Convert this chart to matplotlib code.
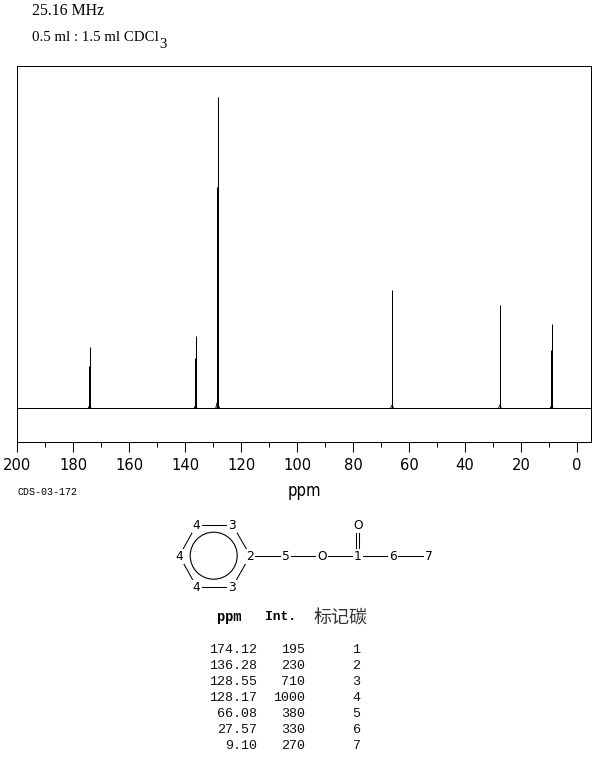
import matplotlib
matplotlib.use("Agg")
import matplotlib.pyplot as plt
from matplotlib.patches import Circle

ppm = [174.12, 136.28, 128.55, 128.17, 66.08, 27.57, 9.10]
intensity = [195, 230, 710, 1000, 380, 330, 270]
carbon = [1, 2, 3, 4, 5, 6, 7]
ppm_labels = ["174.12", "136.28", "128.55", "128.17", "66.08", "27.57", "9.10"]
# neighbouring lines that make the lower part of some peaks look doubled
shoulder_ppm = [174.30, 136.50, 9.30]
shoulder_height = [135, 160, 186]
foot_height = [8, 8, 18, 8, 10, 10, 8]
major_ticks = list(range(0, 201, 20))
minor_ticks = list(range(10, 200, 20))

W, H = 609, 765
fig = plt.figure(figsize=(W / 100, H / 100), dpi=100, facecolor="white")


def box(l, t, r, b):
    return [l / W, 1 - b / H, (r - l) / W, (b - t) / H]


ax = fig.add_axes(box(17.1, 66, 591.1, 442))
ax.set_xlim(200, -5)
ax.set_ylim(-109.3, 1099.7)
lw = 0.72
for s in ax.spines.values():
    s.set_linewidth(lw)
    s.set_color("black")
ax.set_yticks([])
ax.set_xticks(major_ticks)
ax.set_xticklabels([str(t) for t in major_ticks], family="DejaVu Sans", fontsize=10.6)
ax.set_xticks(minor_ticks, minor=True)
ax.tick_params(axis="x", which="major", length=7.2, width=lw, pad=4.5, color="black")
ax.tick_params(axis="x", which="minor", length=3.6, width=lw, color="black")

ax.axhline(0, color="black", lw=lw)
ax.vlines(ppm, 0, intensity, color="black", lw=lw)
ax.vlines(shoulder_ppm, 0, shoulder_height, color="black", lw=lw)
for p, f in zip(ppm, foot_height):
    ax.plot([p + 0.5, p, p - 0.5], [0, f, 0], color="black", lw=0.6)

# overlay in pixel coordinates for text and the structure diagram
ov = fig.add_axes([0, 0, 1, 1], facecolor="none")
ov.set_xlim(0, W)
ov.set_ylim(H, 0)
ov.axis("off")

serif = "Liberation Serif"
mono = "Liberation Mono"
ov.text(32, 11, "25.16 MHz", family=serif, fontsize=11.3, va="center")
ov.text(32, 37, "0.5 ml : 1.5 ml CDCl", family=serif, fontsize=10.7, va="center")
ov.text(159, 44.5, "3", family=serif, fontsize=10.7, va="center")
ov.text(17, 491.5, "CDS-03-172", family=mono, fontsize=7.2, va="center")
ov.text(304, 491, "ppm", family="DejaVu Sans", fontsize=12, va="center", ha="center",
        fontstretch="condensed")

# structure diagram
ring_x = [196.7, 232.3, 250.3, 232.3, 196.7, 179.3]
ring_y = [524.7, 524.7, 555.7, 587, 587, 555.7]
ring_labels = ["4", "3", "2", "3", "4", "4"]
chain_x = [286, 322, 357.7, 393.3, 429.3]
chain_labels = ["5", "O", "1", "6", "7"]
chain_y = 555.7
carbonyl_x, carbonyl_y = 357.7, 524.7
white = dict(facecolor="white", edgecolor="none", pad=0.8)
n = len(ring_x)
for i in range(n):
    ov.plot([ring_x[i], ring_x[(i + 1) % n]], [ring_y[i], ring_y[(i + 1) % n]], color="black", lw=0.75)
ov.add_patch(Circle((213.7, 555.7), 23.5, fill=False, ec="black", lw=0.8))
ov.plot([ring_x[2]] + chain_x, [chain_y] * (len(chain_x) + 1), color="black", lw=0.75)
ov.plot([carbonyl_x - 1.5] * 2, [carbonyl_y, chain_y], color="black", lw=0.75)
ov.plot([carbonyl_x + 1.5] * 2, [carbonyl_y, chain_y], color="black", lw=0.75)
atom_font = dict(family="DejaVu Sans", fontsize=8.8, ha="center", va="center", bbox=white)
for x, y, s in zip(ring_x, ring_y, ring_labels):
    ov.text(x, y + 0.5, s, **atom_font)
for x, s in zip(chain_x, chain_labels):
    ov.text(x, chain_y + 0.5, s, **atom_font)
ov.text(carbonyl_x, carbonyl_y + 0.5, "O", **atom_font)

# table
ov.text(229.5, 617.5, "ppm", family=mono, weight="bold", fontsize=9.8, ha="center", va="center")
ov.text(281, 617.5, "Int.", family=mono, weight="bold", fontsize=9.4, ha="center", va="center")
ov.text(340.5, 619, "标记碳", family="Noto Sans CJK SC", fontsize=13, ha="center", va="center",
        color="#333333")
row_y = [649, 665, 681, 697, 713, 729, 745]
for y, a, b, c in zip(row_y, ppm_labels, intensity, carbon):
    ov.text(257, y + 0.7, a, family=mono, fontsize=9.6, ha="right", va="center", color="#111111")
    ov.text(305, y + 0.7, str(b), family=mono, fontsize=9.6, ha="right", va="center", color="#111111")
    ov.text(360.5, y + 0.7, str(c), family=mono, fontsize=9.6, ha="right", va="center", color="#111111")

fig.savefig("out.png", dpi=100, facecolor="white")
